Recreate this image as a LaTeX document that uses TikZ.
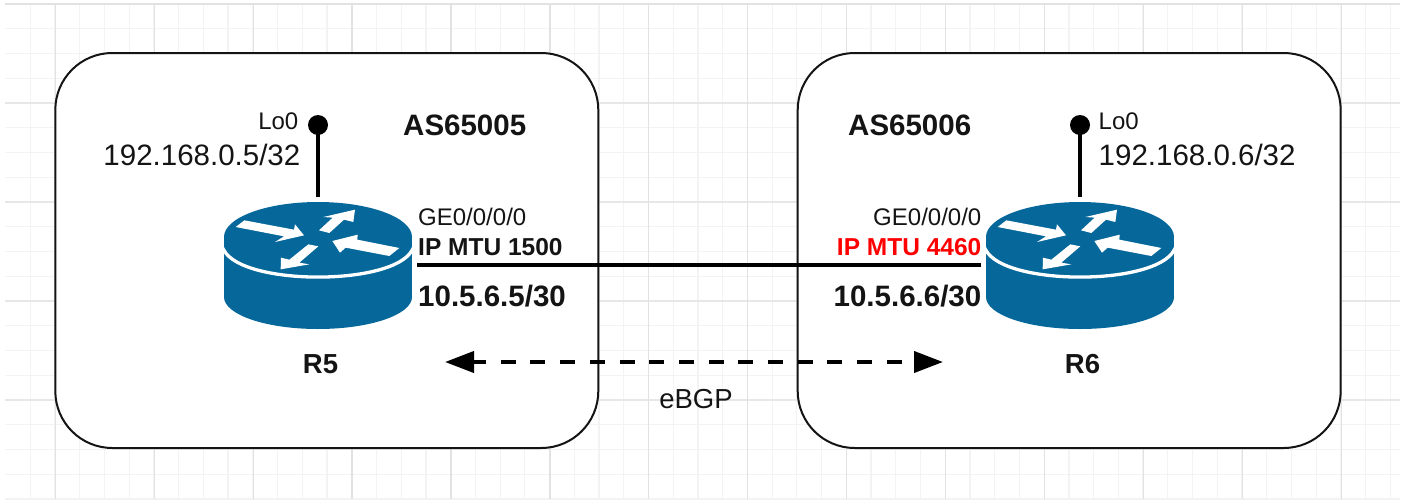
\documentclass[tikz,border=0pt]{standalone}
\usepackage{fontspec}
\setmainfont{Liberation Sans}
\usetikzlibrary{arrows.meta}
\definecolor{routerblue}{HTML}{05679A}
\definecolor{gridminor}{HTML}{F3F3F3}
\definecolor{gridmajor}{HTML}{E2E2E2}
\definecolor{inkdark}{HTML}{141414}
\newcommand{\routerart}[1]{%
\begin{scope}[shift={(#1,237)},x=0.33333pt,y=-0.33333pt,shift={(-354,-410)}]
  \fill[routerblue] (354,410) ellipse [x radius=94pt,y radius=35pt];
  \fill[routerblue] (72,410) rectangle (636,590);
  \fill[routerblue] (354,590) ellipse [x radius=94pt,y radius=32pt];
  \draw[white,line width=3.3pt] (64,436) -- (72,450) .. controls (130,557) and (578,557) .. (636,450) -- (644,436);
  \fill[white] (107,380)--(133,360)--(282,388)--(285,372)--(312,405)--(225,425)--(252,408)--cycle;
  \fill[white] (357,390)--(398,352)--(370,350)--(465,328)--(460,365)--(432,358)--(388,398)--cycle;
  \fill[white] (598,443)--(472,418)--(473,403)--(397,422)--(420,457)--(437,442)--(568,467)--cycle;
  \fill[white] (325,432)--(268,478)--(243,472)--(242,507)--(328,492)--(298,487)--(355,438)--cycle;
\end{scope}}
\tikzset{
  x=1pt,y=-1pt,
  asbox/.style={draw=inkdark,fill=white,line width=2pt,rounded corners=57pt,minimum width=543pt,minimum height=395pt,inner sep=0pt},
  routerbox/.style={inner sep=0pt,minimum width=198pt,minimum height=136pt},
  loopdot/.style={circle,fill=black,inner sep=0pt,minimum size=20pt},
  lbl/.style={inner sep=0pt,text=inkdark},
  big/.style={lbl,font=\fontsize{29.5pt}{31pt}\selectfont},
  bigb/.style={lbl,font=\fontsize{29.5pt}{31pt}\selectfont\bfseries},
  small/.style={lbl,font=\fontsize{24pt}{26pt}\selectfont},
  smallb/.style={lbl,font=\fontsize{24.5pt}{26pt}\selectfont\bfseries},
  mid/.style={lbl,font=\fontsize{27.5pt}{29pt}\selectfont},
  midb/.style={lbl,font=\fontsize{27.5pt}{29pt}\selectfont\bfseries},
  wire/.style={draw=black,line width=3.4pt},
  stem/.style={draw=black,line width=4pt},
  bgplink/.style={draw=black,line width=4pt,dash pattern=on 15pt off 14.7pt,dash phase=2pt,
    {Triangle[length=29pt,width=21pt]}-{Triangle[length=29pt,width=21pt]}},
}
\begin{document}
\begin{tikzpicture}
\useasboundingbox (0,0) rectangle (1406,501);
\fill[white] (0,0) rectangle (1406,501);
% grid
\foreach \i in {1,...,56}{\draw[gridminor,line width=1.2pt] ({5.5+24.73*\i},4) -- ({5.5+24.73*\i},499);}
\foreach \i in {0,...,19}{\draw[gridminor,line width=1.2pt] (5,{4+24.75*\i}) -- (1400,{4+24.75*\i});}
\foreach \i in {1,...,4}{\draw[gridmajor!70!gridminor,line width=1.2pt] (5,{4+99*\i}) -- (1400,{4+99*\i});}
\draw[gridmajor,line width=1.2pt] (5,4) -- (1400,4);
\draw[gridminor,line width=1.2pt] (5,499) -- (1400,499);
\foreach \i in {0,...,13}{\draw[gridmajor,line width=1.2pt] ({55.3+98.92*\i},4) -- ({55.3+98.92*\i},499);}
% AS boxes
\node[asbox] (as5) at (326.8,250.5) {};
\node[asbox] (as6) at (1069.2,250.5) {};
% routers
\node[routerbox] (r5) at (318,265) {};
\node[routerbox] (r6) at (1080,265) {};
\routerart{318}
\routerart{1080}
% loopbacks
\node[loopdot] (lo5) at (318,125) {};
\node[loopdot] (lo6) at (1080,125) {};
\draw[stem] (lo5.center) -- (r5.north);
\draw[stem] (lo6.center) -- (r6.north);
% link
\draw[wire] (r5.east) -- (r6.west);
% eBGP
\coordinate (bgpl) at (445,362);
\coordinate (bgpr) at (943,362);
\draw[bgplink] (bgpl) -- (bgpr);
% labels
\node[small,anchor=base east] (lo5t) at (298.5,129) {Lo0};
\node[big,anchor=base east] (ip5) at (300.5,165) {192.168.0.5/32};
\node[bigb,anchor=base west] (as5t) at (403,135) {AS65005};
\node[small,anchor=base west] (ge5) at (418,225) {GE0/0/0/0};
\node[smallb,anchor=base west] (mtu5) at (418,255) {IP MTU 1500};
\node[bigb,anchor=base west] (addr5) at (418,306) {10.5.6.5/30};
\node[midb,anchor=base] (r5t) at (320.5,373) {R5};
\node[bigb,anchor=base west] (as6t) at (848,135) {AS65006};
\node[small,anchor=base west] (lo6t) at (1098.5,129) {Lo0};
\node[big,anchor=base west] (ip6) at (1098.5,165) {192.168.0.6/32};
\node[small,anchor=base east] (ge6) at (981.5,225) {GE0/0/0/0};
\node[smallb,anchor=base east,text=red] (mtu6) at (981.5,255) {IP MTU 4460};
\node[bigb,anchor=base east] (addr6) at (981.5,306) {10.5.6.6/30};
\node[midb,anchor=base] (r6t) at (1082.5,373) {R6};
\node[mid,anchor=base] (bgpt) at (696,408) {eBGP};
\end{tikzpicture}
\end{document}
